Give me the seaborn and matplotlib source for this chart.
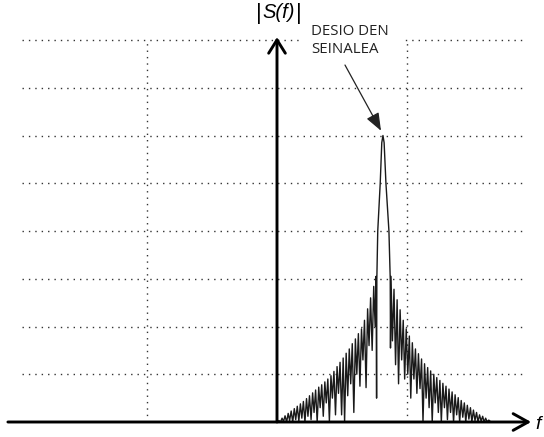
import matplotlib
matplotlib.use("Agg")
import matplotlib.pyplot as plt
import seaborn as sns
import pandas as pd
from matplotlib.patches import Rectangle

# ---------------- data ----------------
# frequency in units of grid columns (vertical dotted lines at f = -1 and f = 1),
# magnitude in units of horizontal grid rows
grid_rows = [1, 2, 3, 4, 5, 6, 7, 8]
grid_cols = [-1, 1]

start_f = [0.0]
start_mag = [0.0]

left_peak_f = [0.015, 0.039, 0.062, 0.086, 0.109, 0.133, 0.156, 0.180, 0.203, 0.227, 0.250,
               0.274, 0.297, 0.321, 0.344, 0.368, 0.391, 0.415, 0.438, 0.462, 0.485, 0.509,
               0.532, 0.556, 0.579, 0.603, 0.626, 0.650, 0.673, 0.697, 0.720, 0.744, 0.762]
left_peak_mag = [0.03, 0.08, 0.13, 0.18, 0.23, 0.28, 0.33, 0.38, 0.43, 0.49, 0.55,
                 0.61, 0.67, 0.73, 0.78, 0.84, 0.90, 0.97, 1.06, 1.16, 1.25, 1.34,
                 1.44, 1.53, 1.64, 1.74, 1.85, 1.95, 2.13, 2.37, 2.60, 2.84, 3.05]
left_trough_f = [0.027, 0.050, 0.074, 0.097, 0.121, 0.144, 0.168, 0.191, 0.215, 0.238, 0.262,
                 0.285, 0.309, 0.332, 0.356, 0.379, 0.403, 0.426, 0.450, 0.473, 0.497, 0.520,
                 0.544, 0.567, 0.591, 0.614, 0.638, 0.661, 0.685, 0.708, 0.732, 0.755, 0.766]
left_trough_mag = [0.0, 0.01, 0.0, 0.03, 0.0, 0.05, 0.02, 0.08, 0.0, 0.12, 0.05,
                   0.2, 0.0, 0.3, 0.12, 0.4, 0.02, 0.5, 0.15, 0.6, 0.15, 0.0,
                   0.55, 0.8, 0.2, 1.0, 0.75, 1.3, 0.72, 1.6, 1.5, 2.0, 0.5]

main_lobe_f = [0.768, 0.775, 0.794, 0.806, 0.815, 0.824, 0.838, 0.861, 0.871, 0.873]
main_lobe_mag = [3.0, 4.0, 5.0, 5.85, 6.0, 5.85, 5.0, 4.0, 3.0, 1.55]

right_peak_f = [0.877, 0.900, 0.924, 0.947, 0.971, 0.994, 1.018, 1.041, 1.065, 1.088, 1.112,
                1.135, 1.159, 1.182, 1.206, 1.229, 1.253, 1.276, 1.300, 1.323, 1.347, 1.370,
                1.394, 1.417, 1.441, 1.464, 1.488, 1.511, 1.535, 1.558, 1.582, 1.605, 1.629]
right_peak_mag = [3.05, 2.78, 2.56, 2.35, 2.13, 1.95, 1.80, 1.66, 1.53, 1.43, 1.32,
                  1.22, 1.14, 1.07, 1.00, 0.93, 0.87, 0.81, 0.75, 0.69, 0.63, 0.57,
                  0.51, 0.45, 0.40, 0.35, 0.30, 0.25, 0.20, 0.15, 0.12, 0.08, 0.04]
right_trough_f = [0.888, 0.912, 0.935, 0.959, 0.982, 1.006, 1.029, 1.053, 1.076, 1.100, 1.123,
                  1.147, 1.170, 1.194, 1.217, 1.241, 1.264, 1.288, 1.311, 1.335, 1.358, 1.382,
                  1.405, 1.429, 1.452, 1.476, 1.499, 1.523, 1.546, 1.570, 1.593, 1.617, 1.645]
right_trough_mag = [1.7, 1.2, 0.8, 1.3, 0.9, 1.0, 0.5, 0.9, 0.6, 0.7, 0.0,
                    0.5, 0.3, 0.0, 0.4, 0.2, 0.0, 0.3, 0.05, 0.2, 0.0, 0.15,
                    0.0, 0.1, 0.0, 0.06, 0.0, 0.03, 0.0, 0.02, 0.0, 0.0, 0.0]

y_label = "S(f)"
x_label = "f"
note_lines = ["DESIO DEN", "SEINALEA"]
peak_f, peak_mag = 0.80, 6.1

# ---------------- build the spectrum table ----------------
f_all, m_all = list(start_f), list(start_mag)
for pf, pm, tf, tm in zip(left_peak_f, left_peak_mag, left_trough_f, left_trough_mag):
    f_all += [pf, tf]
    m_all += [pm, tm]
f_all += main_lobe_f
m_all += main_lobe_mag
for pf, pm, tf, tm in zip(right_peak_f, right_peak_mag, right_trough_f, right_trough_mag):
    f_all += [pf, tf]
    m_all += [pm, tm]
spec = pd.DataFrame({"f": f_all, "mag": m_all, "order": range(len(f_all))})

# ---------------- figure ----------------
sns.set_style("white")
plt.rcParams["font.family"] = ["Open Sans", "DejaVu Sans"]

fig = plt.figure(figsize=(5.44, 4.37), dpi=100)
ax = fig.add_axes([0, 0, 1, 1])
px_per_f = 130.0
px_per_m = 47.75
ax.set_xlim(-277 / px_per_f, (544 - 277) / px_per_f)
ax.set_ylim(-(437 - 422) / px_per_m, 422 / px_per_m)
ax.axis("off")

dot = (0, (1, 3.6))
ax.hlines(grid_rows, -1.96, 1.90, colors="#333333", linestyles=[dot], linewidth=1.0, zorder=1)
ax.vlines(grid_cols, 0, 8, colors="#333333", linestyles=[dot], linewidth=1.0, zorder=1)

# spectrum
sns.lineplot(data=spec, x="f", y="mag", sort=False, estimator=None, ax=ax,
             color="#1a1a1a", linewidth=1.0, zorder=3)

# axes with arrows
ax.annotate("", xy=(1.955, 0), xytext=(-2.07, 0),
            arrowprops=dict(arrowstyle="->,head_length=0.9,head_width=0.5", lw=2.1,
                            color="black", shrinkA=0, shrinkB=0, mutation_scale=12), zorder=5)
ax.annotate("", xy=(0, 8.06), xytext=(0, 0),
            arrowprops=dict(arrowstyle="->,head_length=0.8,head_width=0.5", lw=2.1,
                            color="black", shrinkA=0, shrinkB=0, mutation_scale=12), zorder=5)

# white box behind note
ax.add_patch(Rectangle((0.2, 7.62), 0.785, 0.76, facecolor="white", edgecolor="none", zorder=2))

# labels
ax.text(-0.16, 8.55, "|", fontsize=16, ha="left", va="center", color="black",
        family=["Liberation Sans", "DejaVu Sans"])
ax.text(-0.115, 8.57, y_label, fontsize=14.5, ha="left", va="center", color="black",
        style="italic", family=["Liberation Sans", "DejaVu Sans"])
ax.text(0.145, 8.55, "|", fontsize=16, ha="left", va="center", color="black",
        family=["Liberation Sans", "DejaVu Sans"])
ax.text(1.99, -0.05, x_label, fontsize=14, ha="left", va="center", color="black",
        style="italic", family=["Liberation Sans", "DejaVu Sans"])

ax.text(0.262, 8.105, note_lines[0], fontsize=10.8, ha="left", va="baseline", color="#222222", zorder=4)
ax.text(0.262, 7.72, note_lines[1], fontsize=10.8, ha="left", va="baseline", color="#222222", zorder=4)
ax.annotate("", xy=(peak_f, peak_mag), xytext=(0.523, 7.476),
            arrowprops=dict(arrowstyle="-|>,head_length=0.9,head_width=0.35", lw=0.9,
                            color="#222222", shrinkA=0, shrinkB=0, mutation_scale=12), zorder=4)

fig.savefig("out.png", dpi=100, facecolor="white")
